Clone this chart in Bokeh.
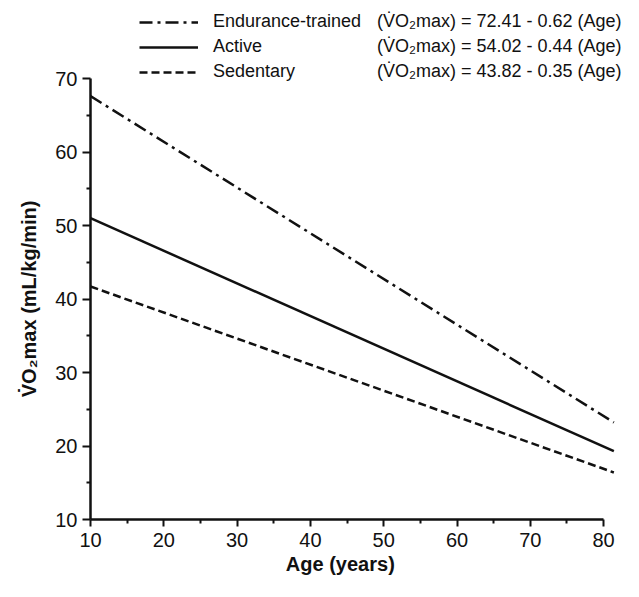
from bokeh.plotting import figure
from bokeh.models import Legend, LegendItem, FixedTicker, Range1d
from bokeh.embed import file_html
from bokeh.resources import INLINE

# ---- data ----
groups = ["Endurance-trained", "Active", "Sedentary"]
equations = [
    "(V\u0307O\u2082max) = 72.41 - 0.62 (Age)",
    "(V\u0307O\u2082max) = 54.02 - 0.44 (Age)",
    "(V\u0307O\u2082max) = 43.82 - 0.35 (Age)",
]
age_start = [10, 10, 10]
age_end = [81.4, 81.4, 81.4]
vo2_start = [67.6, 51.0, 41.7]
vo2_end = [23.2, 19.3, 16.4]
x_ticks = [10, 20, 30, 40, 50, 60, 70, 80]
x_minor = [15, 25, 35, 45, 55, 65, 75]
y_ticks = [10, 20, 30, 40, 50, 60, 70]
y_minor = [15, 25, 35, 45, 55, 65]
x_title = "Age (years)"
y_title = "V\u0307O\u2082max (mL/kg/min)"

# ---- styles / layout ----
dashes = ["13 5 3 5", "solid", "8 4"]
FONT = "Liberation Sans"
INK = "#111111"

W, H = 623, 581
BL, BR, BT, BB = 90, 0, 0, 62
frame_w = W - BL - BR
frame_h = H - BT - BB
px_per_x = 7.33
top_70_px = 78          # canvas y of the 70 gridline
px_per_y = (frame_h - top_70_px) / (y_ticks[-1] - y_ticks[0])
x_lo = x_ticks[0]
x_hi = x_lo + frame_w / px_per_x
y_lo = y_ticks[0]
y_hi = y_ticks[-1] + top_70_px / px_per_y

p = figure(width=W, height=H, output_backend="svg", toolbar_location=None,
           x_range=Range1d(x_lo, x_hi), y_range=Range1d(y_lo, y_hi),
           min_border_left=BL, min_border_right=BR, min_border_top=BT,
           min_border_bottom=BB)
p.outline_line_color = None
p.xgrid.visible = False
p.ygrid.visible = False
p.background_fill_color = "white"
p.border_fill_color = "white"

renderers = []
for i in range(3):
    r = p.line([age_start[i], age_end[i]], [vo2_start[i], vo2_end[i]],
               line_color=INK, line_width=2.5, line_dash=dashes[i])
    renderers.append(r)

for ax in (p.xaxis[0], p.yaxis[0]):
    ax.axis_line_width = 2.5
    ax.axis_line_color = INK
    ax.major_tick_line_width = 2
    ax.minor_tick_line_width = 2
    ax.major_tick_line_color = INK
    ax.minor_tick_line_color = INK
    ax.major_tick_in = 0
    ax.minor_tick_in = 0
    ax.major_label_text_font = FONT
    ax.major_label_text_font_size = "20px"
    ax.major_label_text_color = INK
    ax.axis_label_text_font = FONT
    ax.axis_label_text_font_size = "20px"
    ax.axis_label_text_font_style = "bold"
    ax.axis_label_text_color = INK

p.xaxis.ticker = FixedTicker(ticks=x_ticks, minor_ticks=x_minor)
p.yaxis.ticker = FixedTicker(ticks=y_ticks, minor_ticks=y_minor)
p.xaxis.bounds = (x_ticks[0], x_ticks[-1])
p.yaxis.bounds = (y_ticks[0], y_ticks[-1])
p.xaxis.major_tick_out = 7
p.xaxis.minor_tick_out = 4
p.yaxis.major_tick_out = 8
p.yaxis.minor_tick_out = 4
p.xaxis.major_label_standoff = 6
p.yaxis.major_label_standoff = 5
# trailing no-break spaces shift the centred titles toward the axis-bound centre
p.xaxis.axis_label = x_title + "\u00a0" * 6
p.yaxis.axis_label = y_title + "\u00a0" * 14
p.xaxis.axis_label_standoff = 3
p.yaxis.axis_label_standoff = 12

leg_top = 10.7
leg_h = 3 * 22 + 2 * 3
leg_y = frame_h - (leg_top - BT) - leg_h

legend = Legend(items=[LegendItem(label=groups[i], renderers=[renderers[i]]) for i in range(3)],
                location=(139 - BL, leg_y), padding=0, margin=0, spacing=3,
                glyph_width=59, glyph_height=22, label_height=22,
                label_standoff=15, label_text_font=FONT, label_text_font_size="18px",
                label_text_color=INK, border_line_color=None, background_fill_alpha=0)
p.add_layout(legend)

eq_legend = Legend(items=[LegendItem(label=equations[i], renderers=[renderers[i]]) for i in range(3)],
                   location=(377 - BL, leg_y), padding=0, margin=0, spacing=3,
                   glyph_width=0, glyph_height=22, label_height=22,
                   label_standoff=0, label_text_font=FONT, label_text_font_size="18px",
                   label_text_color=INK, border_line_color=None, background_fill_alpha=0)
p.add_layout(eq_legend)

open("out.html", "w").write(file_html(p, INLINE))
